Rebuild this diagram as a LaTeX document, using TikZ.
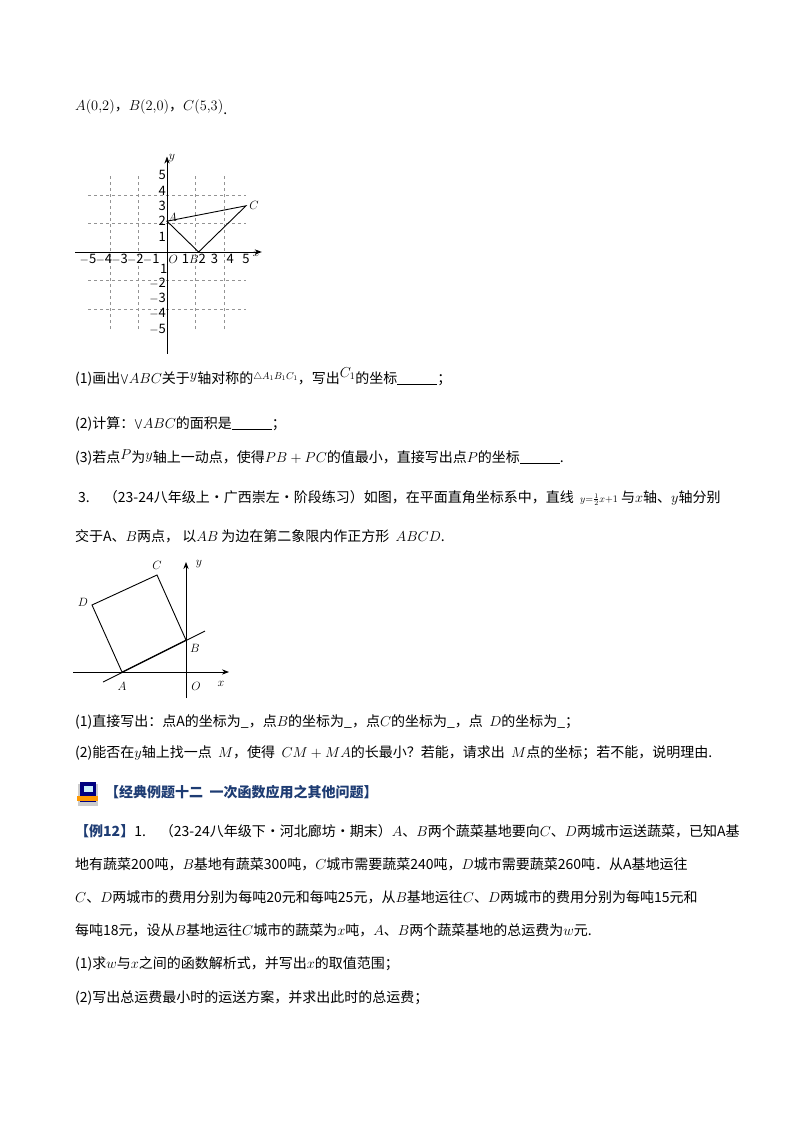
\documentclass[tikz,border=0pt]{standalone}
\usepackage{fontspec}
\setmainfont{Noto Sans CJK SC}
\usetikzlibrary{arrows.meta}
\definecolor{hdr}{RGB}{30,60,115}
\begin{document}
\begin{tikzpicture}[x=1pt,y=-1pt,
  txt/.style={anchor=base west,inner sep=0pt,font=\fontsize{14}{16}\selectfont},
  lbl/.style={inner sep=1pt,font=\fontsize{13}{13}\selectfont},
  ax/.style={-{Stealth[length=7pt]},line width=0.8pt},
  gridl/.style={gray!85,dashed,line width=0.6pt},
  fig/.style={line width=0.9pt}]
\useasboundingbox (0,0) rectangle (800,1132);
\fill[white] (0,0) rectangle (800,1132);
\node[txt] (t0) at (75,110) {$A(0{,}2)$，$B(2{,}0)$，$C(5{,}3)$\raisebox{-5pt}{.}};
\begin{scope}[shift={(167,252)},x=15.8pt,y=15.4pt]
\draw[gridl] (-5,-5) grid (5,5);
\draw[ax] (-5.8,0) -- (6,0);
\draw[ax] (0,-6.6) -- (0,6.2);
\node[lbl,anchor=west] at (0.05,6.1) {$y$};
\node[lbl] at (5.65,-0.1) {$x$};
\foreach \i in {1,...,5} {\node[lbl,anchor=east] at (0,\i) {\i};}
\foreach \i in {2,...,5} {\node[lbl,anchor=east] at (0,-\i) {$-$\i};}
\node[lbl,anchor=east] at (0.1,-1.1) {1};
\foreach \i in {1,...,5} {\node[lbl] at (-\i,-0.45) {$-$\i};}
\foreach \i in {3,4,5} {\node[lbl] at (\i,-0.45) {\i};}
\node[lbl] at (1.7,-0.45) {1$B$2};
\node[lbl] at (0.4,-0.45) {$O$};
\coordinate (A) at (0,2); \coordinate (B) at (2,0); \coordinate (C) at (5,3);
\draw[fig] (A) -- (B) -- (C) -- cycle;
\node[lbl] at (0.35,2.25) {$A$};
\node[lbl] at (5.5,3) {$C$};
\end{scope}
\node[txt] (q1) at (75,383) {(1)画出$\bigvee\!ABC$关于\raisebox{4pt}{$y$}轴对称的\raisebox{4pt}{$\scriptstyle\triangle A_1B_1C_1$}，写出\raisebox{6pt}{$C_1$}的坐标\underline{\hspace{40pt}}；};
\node[txt] (q2) at (75,428) {(2)计算：$\bigvee\!ABC$的面积是\underline{\hspace{40pt}}；};
\node[txt] (q3) at (75,462) {(3)若点\raisebox{3pt}{$P$}为\raisebox{3pt}{$y$}轴上一动点，使得$PB+PC$的值最小，直接写出点$P$的坐标\underline{\hspace{40pt}}.};
\node[txt] (p3) at (78,502) {3.\quad （23-24八年级上·广西崇左·阶段练习）如图，在平面直角坐标系中，直线\ \ $\scriptstyle y=\frac12x+1$\ 与$x$轴、$y$轴分别};
\node[txt] (p3b) at (75,541) {交于A、$B$两点，\ 以$AB$\ 为边在第二象限内作正方形\ \ $ABCD$.};
\coordinate (O) at (186,672);
\coordinate (xa) at (73,672); \coordinate (xb) at (229,672);
\coordinate (ya) at (186,698); \coordinate (yb) at (186,562);
\draw[ax] (xa) -- (xb);
\draw[ax] (ya) -- (yb);
\coordinate (SA) at (122,672); \coordinate (SB) at (186,640);
\coordinate (SC) at (157,575); \coordinate (SD) at (92,605);
\coordinate (l1) at (103,682); \coordinate (l2) at (205,631);
\draw[fig] (l1) -- (l2);
\draw[fig] (SA) -- (SB) -- (SC) -- (SD) -- cycle;
\node[lbl] at (122,686) {$A$};
\node[lbl] at (195,648) {$B$};
\node[lbl] at (157,565) {$C$};
\node[lbl] at (83,602) {$D$};
\node[lbl] at (196,686) {$O$};
\node[lbl] at (221,684) {$x$};
\node[lbl] at (199,564) {$y$};
\node[txt] (q31) at (75,726) {(1)直接写出：点A的坐标为\_，点$B$的坐标为\_，点$C$的坐标为\_，点\ \ $D$的坐标为\_；};
\node[txt] (q32) at (75,757) {(2)能否在$y$轴上找一点\ \ $M$，使得\ \ $CM+MA$的长最小？若能，请求出\ \ $M$点的坐标；若不能，说明理由.};
\begin{scope}[shift={(80,782)}]
\fill[gray!40] (-2,2) rectangle (18,24);
\fill[blue!50!black] (0,0) rectangle (16,20);
\fill[cyan!20] (4,4) rectangle (13,10);
\fill[orange!80!yellow] (-3,14) rectangle (18,19);
\end{scope}
\node[txt,text=hdr,font=\fontsize{14}{16}\selectfont\bfseries] (hd) at (105,797) {【经典例题十二\ \ 一次函数应用之其他问题】};
\node[txt] (e1) at (75,836) {{\color{hdr}\bfseries【例12】}1.\quad （23-24八年级下·河北廊坊·期末）$A$、$B$两个蔬菜基地要向$C$、$D$两城市运送蔬菜，已知A基};
\node[txt] (e2) at (75,869) {地有蔬菜200吨，$B$基地有蔬菜300吨，$C$城市需要蔬菜240吨，$D$城市需要蔬菜260吨．从A基地运往};
\node[txt] (e3) at (75,902) {$C$、$D$两城市的费用分别为每吨20元和每吨25元，从$B$基地运往$C$、$D$两城市的费用分别为每吨15元和};
\node[txt] (e4) at (75,935) {每吨18元，设从$B$基地运往$C$城市的蔬菜为$x$吨，$A$、$B$两个蔬菜基地的总运费为$w$元.};
\node[txt] (e5) at (75,968) {(1)求$w$与$x$之间的函数解析式，并写出$x$的取值范围；};
\node[txt] (e6) at (75,1002) {(2)写出总运费最小时的运送方案，并求出此时的总运费；};
\end{tikzpicture}
\end{document}
